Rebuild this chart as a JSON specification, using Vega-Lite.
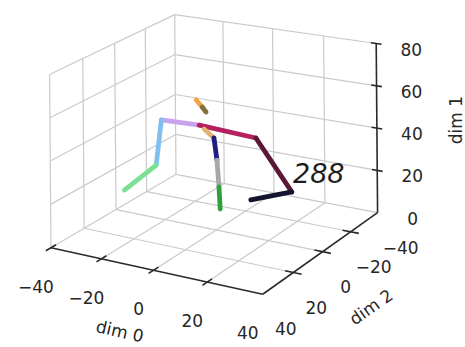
{
  "$schema": "https://vega.github.io/schema/vega-lite/v6.json",
  "width": 465,
  "height": 347,
  "autosize": {"type": "fit", "contains": "padding"},
  "padding": 0,
  "background": "white",
  "config": {"view": {"stroke": null}},
  "datasets": {
    "grid": [
      {"seg": "g1", "k": 0, "d0": -20, "d1": 0, "d2": -40}, {"seg": "g1", "k": 1, "d0": -20, "d1": 0, "d2": 40},
      {"seg": "g2", "k": 0, "d0": 0, "d1": 0, "d2": -40}, {"seg": "g2", "k": 1, "d0": 0, "d1": 0, "d2": 40},
      {"seg": "g3", "k": 0, "d0": 20, "d1": 0, "d2": -40}, {"seg": "g3", "k": 1, "d0": 20, "d1": 0, "d2": 40},
      {"seg": "g4", "k": 0, "d0": -40, "d1": 0, "d2": -20}, {"seg": "g4", "k": 1, "d0": 40, "d1": 0, "d2": -20},
      {"seg": "g5", "k": 0, "d0": -40, "d1": 0, "d2": 0}, {"seg": "g5", "k": 1, "d0": 40, "d1": 0, "d2": 0},
      {"seg": "g6", "k": 0, "d0": -40, "d1": 0, "d2": 20}, {"seg": "g6", "k": 1, "d0": 40, "d1": 0, "d2": 20},
      {"seg": "g7", "k": 0, "d0": -40, "d1": 0, "d2": -40}, {"seg": "g7", "k": 1, "d0": 40, "d1": 0, "d2": -40},
      {"seg": "g8", "k": 0, "d0": -40, "d1": 0, "d2": -40}, {"seg": "g8", "k": 1, "d0": -40, "d1": 0, "d2": 40},
      {"seg": "g9", "k": 0, "d0": -40, "d1": 0, "d2": -40}, {"seg": "g9", "k": 1, "d0": -40, "d1": 80, "d2": -40},
      {"seg": "g10", "k": 0, "d0": -40, "d1": 0, "d2": -20}, {"seg": "g10", "k": 1, "d0": -40, "d1": 80, "d2": -20},
      {"seg": "g11", "k": 0, "d0": -40, "d1": 0, "d2": 0}, {"seg": "g11", "k": 1, "d0": -40, "d1": 80, "d2": 0},
      {"seg": "g12", "k": 0, "d0": -40, "d1": 0, "d2": 20}, {"seg": "g12", "k": 1, "d0": -40, "d1": 80, "d2": 20},
      {"seg": "g13", "k": 0, "d0": -40, "d1": 0, "d2": 40}, {"seg": "g13", "k": 1, "d0": -40, "d1": 80, "d2": 40},
      {"seg": "g14", "k": 0, "d0": -40, "d1": 20, "d2": -40}, {"seg": "g14", "k": 1, "d0": -40, "d1": 20, "d2": 40},
      {"seg": "g15", "k": 0, "d0": -40, "d1": 40, "d2": -40}, {"seg": "g15", "k": 1, "d0": -40, "d1": 40, "d2": 40},
      {"seg": "g16", "k": 0, "d0": -40, "d1": 60, "d2": -40}, {"seg": "g16", "k": 1, "d0": -40, "d1": 60, "d2": 40},
      {"seg": "g17", "k": 0, "d0": -40, "d1": 80, "d2": -40}, {"seg": "g17", "k": 1, "d0": -40, "d1": 80, "d2": 40},
      {"seg": "g18", "k": 0, "d0": -20, "d1": 0, "d2": -40}, {"seg": "g18", "k": 1, "d0": -20, "d1": 80, "d2": -40},
      {"seg": "g19", "k": 0, "d0": 0, "d1": 0, "d2": -40}, {"seg": "g19", "k": 1, "d0": 0, "d1": 80, "d2": -40},
      {"seg": "g20", "k": 0, "d0": 20, "d1": 0, "d2": -40}, {"seg": "g20", "k": 1, "d0": 20, "d1": 80, "d2": -40},
      {"seg": "g21", "k": 0, "d0": -40, "d1": 20, "d2": -40}, {"seg": "g21", "k": 1, "d0": 40, "d1": 20, "d2": -40},
      {"seg": "g22", "k": 0, "d0": -40, "d1": 40, "d2": -40}, {"seg": "g22", "k": 1, "d0": 40, "d1": 40, "d2": -40},
      {"seg": "g23", "k": 0, "d0": -40, "d1": 60, "d2": -40}, {"seg": "g23", "k": 1, "d0": 40, "d1": 60, "d2": -40},
      {"seg": "g24", "k": 0, "d0": -40, "d1": 80, "d2": -40}, {"seg": "g24", "k": 1, "d0": 40, "d1": 80, "d2": -40}
    ],
    "axes": [
      {"seg": "a1", "k": 0, "d0": -40, "d1": 0, "d2": 40}, {"seg": "a1", "k": 1, "d0": 40, "d1": 0, "d2": 40},
      {"seg": "a2", "k": 0, "d0": 40, "d1": 0, "d2": 40}, {"seg": "a2", "k": 1, "d0": 40, "d1": 0, "d2": -40},
      {"seg": "a3", "k": 0, "d0": 40, "d1": 0, "d2": -40}, {"seg": "a3", "k": 1, "d0": 40, "d1": 80, "d2": -40},
      {"seg": "t1", "k": 0, "d0": -40, "d1": 0, "d2": 37}, {"seg": "t1", "k": 1, "d0": -40, "d1": 0, "d2": 43},
      {"seg": "t2", "k": 0, "d0": -20, "d1": 0, "d2": 37}, {"seg": "t2", "k": 1, "d0": -20, "d1": 0, "d2": 43},
      {"seg": "t3", "k": 0, "d0": 0, "d1": 0, "d2": 37}, {"seg": "t3", "k": 1, "d0": 0, "d1": 0, "d2": 43},
      {"seg": "t4", "k": 0, "d0": 20, "d1": 0, "d2": 37}, {"seg": "t4", "k": 1, "d0": 20, "d1": 0, "d2": 43},
      {"seg": "t6", "k": 0, "d0": 37, "d1": 0, "d2": -20}, {"seg": "t6", "k": 1, "d0": 43, "d1": 0, "d2": -20},
      {"seg": "t7", "k": 0, "d0": 37, "d1": 0, "d2": 0}, {"seg": "t7", "k": 1, "d0": 43, "d1": 0, "d2": 0},
      {"seg": "t8", "k": 0, "d0": 37, "d1": 0, "d2": 20}, {"seg": "t8", "k": 1, "d0": 43, "d1": 0, "d2": 20},
      {"seg": "t10", "k": 0, "d0": 38, "d1": 20, "d2": -40}, {"seg": "t10", "k": 1, "d0": 42, "d1": 20, "d2": -40},
      {"seg": "t11", "k": 0, "d0": 38, "d1": 40, "d2": -40}, {"seg": "t11", "k": 1, "d0": 42, "d1": 40, "d2": -40},
      {"seg": "t12", "k": 0, "d0": 38, "d1": 60, "d2": -40}, {"seg": "t12", "k": 1, "d0": 42, "d1": 60, "d2": -40},
      {"seg": "t13", "k": 0, "d0": 38, "d1": 80, "d2": -40}, {"seg": "t13", "k": 1, "d0": 42, "d1": 80, "d2": -40}
    ],
    "bones": [
      {"bone": "head", "k": 0, "d0": -7.4, "d1": 59.3, "d2": 0}, {"bone": "head", "k": 1, "d0": -5.1, "d1": 56.4, "d2": 0},
      {"bone": "neck", "k": 0, "d0": -5.1, "d1": 56.4, "d2": 0}, {"bone": "neck", "k": 1, "d0": -3.6, "d1": 54.4, "d2": 0},
      {"bone": "lshoulder", "k": 0, "d0": -6.3, "d1": 47.7, "d2": 0}, {"bone": "lshoulder", "k": 1, "d0": -21.3, "d1": 47.0, "d2": 0},
      {"bone": "lupperarm", "k": 0, "d0": -21.3, "d1": 47.0, "d2": 0}, {"bone": "lupperarm", "k": 1, "d0": -23.5, "d1": 25.1, "d2": 0},
      {"bone": "lforearm", "k": 0, "d0": -23.5, "d1": 25.1, "d2": 0}, {"bone": "lforearm", "k": 1, "d0": -36.5, "d1": 10.2, "d2": 0},
      {"bone": "rshoulder", "k": 0, "d0": -6.3, "d1": 47.7, "d2": 0}, {"bone": "rshoulder", "k": 1, "d0": 15.5, "d1": 46.3, "d2": 0},
      {"bone": "rupperarm", "k": 0, "d0": 15.5, "d1": 46.3, "d2": 0}, {"bone": "rupperarm", "k": 1, "d0": 28.8, "d1": 24.5, "d2": 0},
      {"bone": "rforearm", "k": 0, "d0": 28.8, "d1": 24.5, "d2": 0}, {"bone": "rforearm", "k": 1, "d0": 13.4, "d1": 17.2, "d2": 0},
      {"bone": "thorax", "k": 0, "d0": -4.4, "d1": 46.3, "d2": 0}, {"bone": "thorax", "k": 1, "d0": -0.6, "d1": 42.9, "d2": 0},
      {"bone": "spine", "k": 0, "d0": -0.6, "d1": 42.9, "d2": 0}, {"bone": "spine", "k": 1, "d0": 0.5, "d1": 32.8, "d2": 0},
      {"bone": "hip", "k": 0, "d0": 0.5, "d1": 32.8, "d2": 0}, {"bone": "hip", "k": 1, "d0": 1.2, "d1": 20.4, "d2": 0},
      {"bone": "leg", "k": 0, "d0": 1.2, "d1": 20.4, "d2": 0}, {"bone": "leg", "k": 1, "d0": 1.6, "d1": 10.2, "d2": 0}
    ],
    "ticklabels": [
      {"axis": "dim0", "label": "−40", "d0": -40, "d1": 0, "d2": 40},
      {"axis": "dim0", "label": "−20", "d0": -20, "d1": 0, "d2": 40},
      {"axis": "dim0", "label": "0", "d0": 0, "d1": 0, "d2": 40},
      {"axis": "dim0", "label": "20", "d0": 20, "d1": 0, "d2": 40},
      {"axis": "dim0", "label": "40", "d0": 40, "d1": 0, "d2": 40},
      {"axis": "dim2", "label": "−40", "d0": 40, "d1": 0, "d2": -40},
      {"axis": "dim2", "label": "−20", "d0": 40, "d1": 0, "d2": -20},
      {"axis": "dim2", "label": "0", "d0": 40, "d1": 0, "d2": 0},
      {"axis": "dim2", "label": "20", "d0": 40, "d1": 0, "d2": 20},
      {"axis": "dim2", "label": "40", "d0": 40, "d1": 0, "d2": 40},
      {"axis": "dim1", "label": "0", "d0": 40, "d1": 0, "d2": -40},
      {"axis": "dim1", "label": "20", "d0": 40, "d1": 20, "d2": -40},
      {"axis": "dim1", "label": "40", "d0": 40, "d1": 40, "d2": -40},
      {"axis": "dim1", "label": "60", "d0": 40, "d1": 60, "d2": -40},
      {"axis": "dim1", "label": "80", "d0": 40, "d1": 80, "d2": -40},
      {"axis": "title0", "label": "dim 0", "d0": 0, "d1": 0, "d2": 40},
      {"axis": "title2", "label": "dim 2", "d0": 40, "d1": 0, "d2": 0},
      {"axis": "title1", "label": "dim 1", "d0": 40, "d1": 40, "d2": -40},
      {"axis": "frame", "label": "288", "d0": 38.8, "d1": 34.5, "d2": 0}
    ]
  },
  "encoding": {
    "x": {"field": "px", "type": "quantitative", "scale": {"domain": [0, 465], "nice": false, "zero": false}, "axis": null},
    "y": {"field": "py", "type": "quantitative", "scale": {"domain": [0, 347], "reverse": true, "nice": false, "zero": false}, "axis": null}
  },
  "layer": [
    {
      "data": {"name": "grid"},
      "transform": [
        {"calculate": "1 - 0.03*datum.d0/40 - 0.042*datum.d2/40", "as": "w"},
        {"calculate": "(217.17 + 97.14*datum.d0/40 - 0.7*datum.d1/40 - 69.45*datum.d2/40)/datum.w", "as": "px"},
        {"calculate": "(229.99 + 14.165*datum.d0/40 - 85.6*datum.d1/40 + 28.915*datum.d2/40)/datum.w", "as": "py"}
      ],
      "mark": {"type": "line", "stroke": "#cacaca", "strokeWidth": 1.2},
      "encoding": {"detail": {"field": "seg"}, "order": {"field": "k"}}
    },
    {
      "data": {"name": "axes"},
      "transform": [
        {"calculate": "1 - 0.03*datum.d0/40 - 0.042*datum.d2/40", "as": "w"},
        {"calculate": "(217.17 + 97.14*datum.d0/40 - 0.7*datum.d1/40 - 69.45*datum.d2/40)/datum.w", "as": "px"},
        {"calculate": "(229.99 + 14.165*datum.d0/40 - 85.6*datum.d1/40 + 28.915*datum.d2/40)/datum.w", "as": "py"}
      ],
      "mark": {"type": "line", "stroke": "#2a2a2a", "strokeWidth": 1.6},
      "encoding": {"detail": {"field": "seg"}, "order": {"field": "k"}}
    },
    {
      "data": {"name": "bones"},
      "transform": [
        {"calculate": "1 - 0.03*datum.d0/40 - 0.042*datum.d2/40", "as": "w"},
        {"calculate": "(217.17 + 97.14*datum.d0/40 - 0.7*datum.d1/40 - 69.45*datum.d2/40)/datum.w", "as": "px"},
        {"calculate": "(229.99 + 14.165*datum.d0/40 - 85.6*datum.d1/40 + 28.915*datum.d2/40)/datum.w", "as": "py"}
      ],
      "mark": {"type": "line", "strokeWidth": 4.8, "strokeCap": "round"},
      "encoding": {
        "detail": {"field": "bone"},
        "order": {"field": "k"},
        "color": {
          "field": "bone", "type": "nominal", "legend": null,
          "scale": {
            "domain": ["head", "neck", "lshoulder", "lupperarm", "lforearm", "rshoulder", "rupperarm", "rforearm", "thorax", "spine", "hip", "leg"],
            "range": ["#f0a640", "#80703a", "#c9a2ec", "#80c0f0", "#7ce094", "#b42060", "#5a1834", "#141430", "#e2b272", "#1e1e80", "#a8a8a8", "#30a03a"]
          }
        }
      }
    },
    {
      "data": {"name": "ticklabels"},
      "transform": [
        {"filter": "datum.axis === 'dim0'"},
        {"calculate": "1 - 0.03*datum.d0/40 - 0.042*datum.d2/40", "as": "w"},
        {"calculate": "(217.17 + 97.14*datum.d0/40 - 0.7*datum.d1/40 - 69.45*datum.d2/40)/datum.w", "as": "px"},
        {"calculate": "(229.99 + 14.165*datum.d0/40 - 85.6*datum.d1/40 + 28.915*datum.d2/40)/datum.w", "as": "py"}
      ],
      "mark": {"type": "text", "font": "DejaVu Sans", "fontSize": 17, "color": "#262626", "align": "center", "baseline": "middle", "dx": -15, "dy": 40},
      "encoding": {"text": {"field": "label"}}
    },
    {
      "data": {"name": "ticklabels"},
      "transform": [
        {"filter": "datum.axis === 'dim2'"},
        {"calculate": "1 - 0.03*datum.d0/40 - 0.042*datum.d2/40", "as": "w"},
        {"calculate": "(217.17 + 97.14*datum.d0/40 - 0.7*datum.d1/40 - 69.45*datum.d2/40)/datum.w", "as": "px"},
        {"calculate": "(229.99 + 14.165*datum.d0/40 - 85.6*datum.d1/40 + 28.915*datum.d2/40)/datum.w", "as": "py"}
      ],
      "mark": {"type": "text", "font": "DejaVu Sans", "fontSize": 17, "color": "#262626", "align": "center", "baseline": "middle", "dx": 23, "dy": 36},
      "encoding": {"text": {"field": "label"}}
    },
    {
      "data": {"name": "ticklabels"},
      "transform": [
        {"filter": "datum.axis === 'dim1'"},
        {"calculate": "1 - 0.03*datum.d0/40 - 0.042*datum.d2/40", "as": "w"},
        {"calculate": "(217.17 + 97.14*datum.d0/40 - 0.7*datum.d1/40 - 69.45*datum.d2/40)/datum.w", "as": "px"},
        {"calculate": "(229.99 + 14.165*datum.d0/40 - 85.6*datum.d1/40 + 28.915*datum.d2/40)/datum.w", "as": "py"}
      ],
      "mark": {"type": "text", "font": "DejaVu Sans", "fontSize": 17, "color": "#262626", "align": "center", "baseline": "middle", "dx": 35, "dy": 7},
      "encoding": {"text": {"field": "label"}}
    },
    {
      "data": {"name": "ticklabels"},
      "transform": [
        {"filter": "datum.axis === 'title0'"},
        {"calculate": "1 - 0.03*datum.d0/40 - 0.042*datum.d2/40", "as": "w"},
        {"calculate": "(217.17 + 97.14*datum.d0/40 - 0.7*datum.d1/40 - 69.45*datum.d2/40)/datum.w", "as": "px"},
        {"calculate": "(229.99 + 14.165*datum.d0/40 - 85.6*datum.d1/40 + 28.915*datum.d2/40)/datum.w", "as": "py"}
      ],
      "mark": {"type": "text", "font": "DejaVu Sans", "fontSize": 17, "color": "#262626", "align": "center", "baseline": "middle", "dx": -19, "dy": 68, "angle": 13},
      "encoding": {"text": {"field": "label"}}
    },
    {
      "data": {"name": "ticklabels"},
      "transform": [
        {"filter": "datum.axis === 'title2'"},
        {"calculate": "1 - 0.03*datum.d0/40 - 0.042*datum.d2/40", "as": "w"},
        {"calculate": "(217.17 + 97.14*datum.d0/40 - 0.7*datum.d1/40 - 69.45*datum.d2/40)/datum.w", "as": "px"},
        {"calculate": "(229.99 + 14.165*datum.d0/40 - 85.6*datum.d1/40 + 28.915*datum.d2/40)/datum.w", "as": "py"}
      ],
      "mark": {"type": "text", "font": "DejaVu Sans", "fontSize": 17, "color": "#262626", "align": "center", "baseline": "middle", "dx": 8, "dy": 74, "angle": 325},
      "encoding": {"text": {"field": "label"}}
    },
    {
      "data": {"name": "ticklabels"},
      "transform": [
        {"filter": "datum.axis === 'title1'"},
        {"calculate": "1 - 0.03*datum.d0/40 - 0.042*datum.d2/40", "as": "w"},
        {"calculate": "(217.17 + 97.14*datum.d0/40 - 0.7*datum.d1/40 - 69.45*datum.d2/40)/datum.w", "as": "px"},
        {"calculate": "(229.99 + 14.165*datum.d0/40 - 85.6*datum.d1/40 + 28.915*datum.d2/40)/datum.w", "as": "py"}
      ],
      "mark": {"type": "text", "font": "DejaVu Sans", "fontSize": 17, "color": "#262626", "align": "center", "baseline": "middle", "dx": 8, "dy": 80, "angle": 270},
      "encoding": {"text": {"field": "label"}}
    },
    {
      "data": {"name": "ticklabels"},
      "transform": [
        {"filter": "datum.axis === 'frame'"},
        {"calculate": "1 - 0.03*datum.d0/40 - 0.042*datum.d2/40", "as": "w"},
        {"calculate": "(217.17 + 97.14*datum.d0/40 - 0.7*datum.d1/40 - 69.45*datum.d2/40)/datum.w", "as": "px"},
        {"calculate": "(229.99 + 14.165*datum.d0/40 - 85.6*datum.d1/40 + 28.915*datum.d2/40)/datum.w", "as": "py"}
      ],
      "mark": {"type": "text", "font": "DejaVu Sans", "fontSize": 27, "fontStyle": "italic", "color": "#1e1e1e", "align": "center", "baseline": "middle"},
      "encoding": {"text": {"field": "label"}}
    }
  ]
}
